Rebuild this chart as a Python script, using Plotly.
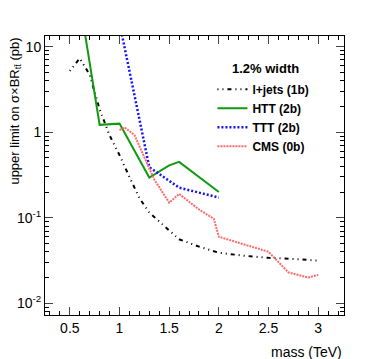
import plotly.graph_objects as go

# limits vs resonance mass (TeV), 1.2% width
lj_mass = [0.5, 0.6, 0.7, 0.75, 0.8, 0.9, 1.0, 1.1, 1.2, 1.3, 1.4, 1.5, 1.6, 1.8, 2.0, 2.25, 2.5, 2.75, 3.0]
lj_lim = [5.2, 7.3, 4.7, 2.9, 1.85, 0.92, 0.54, 0.30, 0.17, 0.115, 0.09, 0.07, 0.056, 0.046, 0.039, 0.036, 0.034, 0.033, 0.0315]

htt_mass = [0.6, 0.8, 1.0, 1.3, 1.5, 1.6, 2.0]
htt_lim = [34, 1.22, 1.26, 0.295, 0.41, 0.45, 0.20]

ttt_mass = [1.0, 1.3, 1.6, 2.0]
ttt_lim = [19, 0.39, 0.225, 0.172]

cms_mass = [1.0, 1.05, 1.15, 1.25, 1.35, 1.5, 1.6, 1.8, 1.95, 2.0, 2.5, 2.7, 2.9, 3.0]
cms_lim = [1.06, 1.14, 0.93, 0.50, 0.28, 0.15, 0.19, 0.125, 0.097, 0.06, 0.040, 0.023, 0.020, 0.0215]

y_tickvals = [0.01, 0.1, 1, 10]
y_ticktext = ["10<sup>-2</sup>", "10<sup>-1</sup>", "1", "10"]
y_minor = [m * 10 ** e for e in range(-3, 2) for m in range(2, 10)]

fonte = "Liberation Sans, Arial, sans-serif"

fig = go.Figure()
fig.add_trace(go.Scatter(x=lj_mass, y=lj_lim, mode="lines", name="<b>l+jets (1b)</b>",
                         line=dict(color="black", width=2, dash="1px,4px,1px,4px,4px,4px")))
fig.add_trace(go.Scatter(x=htt_mass, y=htt_lim, mode="lines", name="<b>HTT (2b)</b>",
                         line=dict(color="#119a11", width=2)))
fig.add_trace(go.Scatter(x=ttt_mass, y=ttt_lim, mode="lines", name="<b>TTT (2b)</b>",
                         line=dict(color="#1515f0", width=2.5, dash="2px,2px")))
fig.add_trace(go.Scatter(x=cms_mass, y=cms_lim, mode="lines", name="<b>CMS (0b)</b>",
                         line=dict(color="#ff6b6b", width=2, dash="2px,1px")))

fig.update_layout(
    width=374,
    height=359,
    template="simple_white",
    paper_bgcolor="white",
    plot_bgcolor="white",
    margin=dict(l=45, r=30, t=36, b=44),
    font=dict(family=fonte, size=14, color="black"),
    showlegend=True,
    legend=dict(x=0.56, y=0.861, xanchor="left", yanchor="top",
                bgcolor="rgba(0,0,0,0)", font=dict(size=12), tracegroupgap=0),
    xaxis=dict(
        range=[0.25, 3.26], tick0=0, dtick=0.5, ticks="inside", ticklen=8,
        showline=True, linecolor="black", linewidth=1, mirror="allticks",
        minor=dict(dtick=0.1, ticks="inside", ticklen=4, tickcolor="black"),
        showgrid=False, zeroline=False, tickfont=dict(size=14), automargin=False,
    ),
    yaxis=dict(
        type="log", range=[-2.137, 1.125], tickmode="array",
        tickvals=y_tickvals, ticktext=y_ticktext, ticks="inside", ticklen=8,
        showline=True, linecolor="black", linewidth=1, mirror="allticks",
        minor=dict(tickvals=y_minor, ticks="inside", ticklen=4, tickcolor="black"),
        showgrid=False, zeroline=False, tickfont=dict(size=14), automargin=False,
    ),
)

fig.add_annotation(text="mass (TeV)", xref="paper", yref="paper", x=1, y=-0.095,
                   xanchor="right", yanchor="top", showarrow=False, font=dict(size=14))
fig.add_annotation(text="upper limit on σ×BR<sub>tt̄</sub> (pb)", xref="paper", yref="paper",
                   x=-0.10, y=1.0, xanchor="center", yanchor="top", textangle=-90,
                   showarrow=False, font=dict(size=13))
fig.add_annotation(text="<b>1.2% width</b>", xref="paper", yref="paper", x=0.62, y=0.885,
                   xanchor="left", yanchor="middle", showarrow=False, font=dict(size=13))

fig.write_html("out.html", config={"displayModeBar": False},
               post_script="document.body.style.margin='0';")
